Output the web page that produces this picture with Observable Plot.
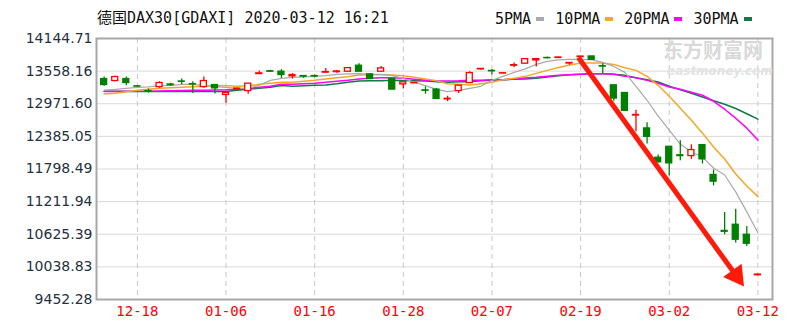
<!DOCTYPE html>
<html><head><meta charset="utf-8">
<script src="https://cdn.jsdelivr.net/npm/d3@7"></script>
<script src="https://cdn.jsdelivr.net/npm/@observablehq/plot@0.6"></script>
<style>
html,body{margin:0;padding:0;background:#fff;}
#wrap{position:relative;width:787px;height:328px;overflow:hidden;}
#title{position:absolute;left:97px;top:8px;font:15px "DejaVu Sans Mono","Noto Sans CJK SC";color:#111;white-space:nowrap;line-height:20px;}
#legend{position:absolute;left:495px;top:9px;display:flex;align-items:center;font:15px "DejaVu Sans Mono";color:#111;white-space:nowrap;line-height:20px;}
#legend .item{display:flex;align-items:center;margin-right:11px;}
#legend .sw{display:inline-block;width:8px;height:4px;margin-left:5px;}
#wm1{position:absolute;left:663px;top:40px;font:bold 20px "Noto Sans CJK SC";line-height:20px;height:20px;color:#d9d9d9;}
#wm2{position:absolute;left:667px;top:65px;font:italic bold 12px "DejaVu Sans";line-height:12px;height:12px;color:#e2e2e2;}
#plot{position:absolute;left:0;top:0;}
</style></head>
<body>
<div id="wrap">
  <div id="plot"></div>
  <div id="wm1">东方财富网</div>
  <div id="wm2">eastmoney.com</div>
  <div id="title"></div>
  <div id="legend"></div>
</div>
<script>
const titleText = "德国DAX30[GDAXI] 2020-03-12 16:21";
const xTickIndex = [3, 11, 19, 27, 35, 43, 51, 59];
const xTickLabels = ["12-18", "01-06", "01-16", "01-28", "02-07", "02-19", "03-02", "03-12"];
const yTicks = [9452.28, 10038.83, 10625.39, 11211.94, 11798.49, 12385.05, 12971.60, 13558.16, 14144.71];

const open = [13416,13380,13416,13285,13200,13272,13318,13372,13325,13272,13308,13129,13228,13200,13505,13555,13548,13464,13470,13470,13530,13540,13548,13655,13500,13548,13416,13320,13340,13212,13226,13050,13200,13344,13590,13562,13515,13655,13692,13751,13795,13795,13695,13810,13822,13648,13303,13165,12760,12528,12001,12198,12045,12031,12228,11691,10685,10796,10616,9888];
const high = [13452,13464,13452,13292,13237,13369,13340,13416,13369,13452,13315,13165,13250,13333,13560,13575,13584,13512,13475,13490,13607,13570,13612,13692,13500,13643,13416,13357,13350,13275,13249,13106,13297,13548,13600,13589,13525,13702,13774,13774,13810,13810,13710,13825,13822,13692,13303,13165,12855,12628,12049,12198,12305,12234,12228,11781,11016,11077,10765,9912];
const low = [13285,13369,13297,13275,13165,13249,13285,13315,13154,13249,13147,12980,13225,13142,13500,13540,13428,13416,13428,13440,13530,13520,13548,13548,13416,13548,13226,13237,13335,13142,13058,13010,13154,13344,13575,13490,13510,13620,13692,13631,13780,13795,13665,13810,13763,13512,13016,12843,12467,12246,11905,11673,11947,11972,11888,11494,10616,10468,10407,9880];
const close = [13308,13452,13344,13280,13192,13344,13305,13366,13318,13380,13249,13165,13244,13333,13518,13548,13488,13488,13460,13462,13541,13552,13612,13548,13416,13607,13226,13357,13346,13205,13058,13060,13297,13523,13598,13555,13520,13665,13774,13774,13790,13803,13705,13820,13763,13640,13065,12843,12770,12377,11919,11900,12030,12139,11972,11571,10670,10527,10455,9900];

const ma5 = [13219,13231,13249,13267,13276,13298,13303,13321,13321,13303,13280,13267,13249,13249,13303,13392,13428,13446,13455,13464,13476,13500,13509,13512,13500,13500,13476,13428,13357,13298,13231,13190,13213,13249,13285,13392,13464,13536,13598,13679,13733,13760,13769,13769,13760,13715,13643,13536,13285,13034,12748,12497,12246,12103,12013,11816,11691,11387,11028,10652];
const ma10 = [13147,13160,13186,13213,13231,13249,13258,13267,13276,13285,13298,13294,13285,13294,13321,13339,13357,13357,13375,13392,13415,13437,13455,13487,13491,13491,13487,13473,13446,13415,13383,13333,13321,13308,13333,13357,13405,13428,13464,13518,13572,13625,13670,13702,13706,13702,13679,13620,13572,13464,13303,13106,12891,12676,12443,12193,11978,11709,11494,11302];
const ma20 = [13190,13190,13195,13195,13195,13201,13204,13208,13213,13213,13219,13222,13231,13249,13267,13285,13321,13321,13330,13339,13357,13375,13392,13415,13428,13437,13441,13428,13410,13392,13383,13380,13383,13392,13392,13401,13405,13419,13433,13446,13464,13482,13495,13500,13509,13512,13500,13464,13437,13392,13339,13272,13231,13178,13124,13016,12873,12712,12533,12318];
const ma30 = [13195,13195,13192,13190,13190,13190,13190,13190,13190,13190,13190,13190,13213,13231,13249,13267,13298,13285,13294,13303,13308,13330,13357,13380,13383,13387,13392,13389,13383,13380,13369,13357,13366,13369,13383,13392,13405,13410,13415,13428,13451,13473,13491,13500,13509,13512,13500,13482,13441,13405,13362,13285,13222,13160,13093,13025,12963,12886,12792,12694];

const maNames = ["5PMA", "10PMA", "20PMA", "30PMA"];
const maColors = ["#aaaaaa", "#f5a623", "#ff00ff", "#0f7a45"];

// annotation arrow (index position, price)
const arrowStart = {i: 42.8, v: 13804};
const arrowHead = {i: 57.05, v: 9880};

const UP = "#ff0000", DOWN = "#008000";

const candles = open.map((o, i) => ({
  i, open: o, high: high[i], low: low[i], close: close[i],
  up: close[i] >= o
}));
const maSeries = [ma5, ma10, ma20, ma30];
const maData = maSeries.flatMap((arr, k) => arr.map((v, i) => ({i, v, k})));

document.getElementById("title").textContent = titleText;
const leg = document.getElementById("legend");
maNames.forEach((n, k) => {
  const it = document.createElement("span"); it.className = "item";
  it.textContent = n;
  const sw = document.createElement("span"); sw.className = "sw"; sw.style.background = maColors[k];
  it.appendChild(sw); leg.appendChild(it);
});

const chart = Plot.plot({
  width: 787,
  height: 328,
  marginLeft: 96,
  marginRight: 15,
  marginTop: 38,
  marginBottom: 29,
  style: {background: "transparent"},
  x: {type: "linear", domain: [-0.69, 60.32], axis: null},
  y: {domain: [9452.28, 14144.71], axis: null},
  marks: [
    Plot.ruleY(yTicks, {stroke: "#d9d9d9", strokeWidth: 1}),
    Plot.ruleX(xTickIndex, {stroke: "#c8c8c8", strokeDasharray: "5,4", strokeWidth: 1}),
    ...[3, 2, 1, 0].map(k => Plot.line(maData.filter(d => d.k === k), {
      x: "i", y: "v", stroke: maColors[k], strokeWidth: k === 0 ? 1.2 : 1.5
    })),
    Plot.ruleX(candles, {x: "i", y1: "low", y2: "high", stroke: d => d.up ? UP : DOWN, strokeWidth: 1.3}),
    Plot.rect(candles, {
      x1: d => d.i - 0.27, x2: d => d.i + 0.27,
      y1: d => Math.min(d.open, d.close), y2: d => Math.max(d.open, d.close),
      fill: d => d.up ? "#ffffff" : DOWN,
      stroke: d => d.up ? UP : DOWN, strokeWidth: 1.3
    }),
    Plot.link([{a: arrowStart, b: arrowHead}], {
      x1: d => d.a.i, y1: d => d.a.v, x2: d => d.b.i, y2: d => d.b.v,
      stroke: "#ff1a0a", strokeWidth: 5
    }),
    Plot.dot([arrowHead], {x: "i", y: "v", symbol: "triangle", r: 8.5, fill: "#ff1a0a", stroke: "none", rotate: 144}),
    Plot.frame({stroke: "#a8a8a8", strokeWidth: 2}),
    Plot.text(yTicks, {
      y: d => d, text: d => d.toFixed(2), frameAnchor: "left", textAnchor: "end", dx: -4,
      fontSize: 14, fontFamily: "DejaVu Sans", fill: "#26303f"
    }),
    Plot.text(xTickIndex, {
      x: d => d, text: (d, j) => xTickLabels[j], frameAnchor: "bottom", dy: 16,
      fontSize: 14, fontFamily: "DejaVu Sans Mono", fill: "#ff0000"
    })
  ]
});
document.getElementById("plot").appendChild(chart);
</script>
</body></html>
